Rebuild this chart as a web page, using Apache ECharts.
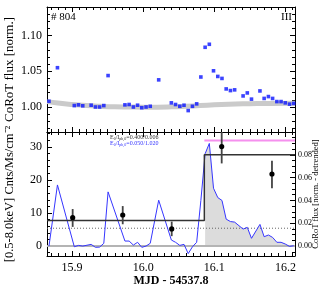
<!DOCTYPE html>
<html><head><meta charset="utf-8">
<script src="https://cdn.jsdelivr.net/npm/echarts@6/dist/echarts.min.js"></script>
<style>html,body{margin:0;padding:0;background:#fff}#c{width:327px;height:291px}</style>
</head><body><div id="c"></div>
<script>
// Time (MJD - 54537.8) of CoRoT samples
const corotTime = [15.8675,15.8794,15.9031,15.9090,15.9150,15.9268,15.9328,15.9387,15.9446,15.9506,
  15.9743,15.9802,15.9862,15.9921,15.9980,16.0040,16.0099,16.0218,16.0396,16.0455,16.0515,16.0574,
  16.0633,16.0693,16.0752,16.0811,16.0871,16.0930,16.0989,16.1049,16.1108,16.1167,16.1227,16.1286,
  16.1405,16.1464,16.1523,16.1642,16.1701,16.1761,16.1820,16.1880,16.1939,16.1998,16.2058,16.2117];
// normalised CoRoT flux (top panel)
const corotFlux = [1.008,1.055,1.002,1.003,1.0017,1.0025,1.000,1.000,1.002,1.044,
  1.003,1.0035,1.000,1.0025,0.999,1.000,1.001,1.038,1.0058,1.0035,1.001,1.0025,
  0.995,1.001,1.0044,1.042,1.0836,1.0878,1.0507,1.0428,1.040,1.0253,1.023,1.024,
  1.0155,1.0197,1.011,1.0225,1.012,1.0146,1.012,1.0076,1.0076,1.0058,1.004,1.005];
// detrended CoRoT flux (bottom panel, right axis)
const detrended = [0.000,0.0536,-0.0006,0.0006,0.000,0.0015,-0.0011,-0.0009,0.0024,0.0475,
  0.0044,0.0044,0.0009,0.0033,-0.0011,0.000,0.0024,0.0402,0.0053,0.0033,0.0006,0.0015,
  -0.0066,-0.0006,0.0033,0.040,0.081,0.090,0.0507,0.0425,0.040,0.0236,0.0215,0.021,
  0.0149,0.0164,0.0068,0.019,0.0082,0.0097,0.0076,0.0033,0.0033,0.0018,-0.0003,0.0003];
// trend curve
const trendTime = [15.865,15.88,15.90,15.92,15.94,15.96,15.98,16.00,16.02,16.04,16.06,16.08,16.10,16.12,16.14,16.16,16.18,16.2135];
const trendFlux = [1.0075,1.0055,1.0035,1.002,1.001,1.0003,1.0,0.9998,0.9998,1.0002,1.001,1.002,1.003,1.0038,1.0044,1.0048,1.005,1.0052];
// X-ray light curve (binned, with errors)
const xrayTime = [15.9008,15.9712,16.0401,16.1104,16.1811];
const xrayRate = [8.6,9.4,5.2,30.1,21.8];
const xrayLow  = [5.8,6.6,3.0,25.0,17.5];
const xrayHigh = [11.2,12.1,7.4,34.5,25.8];
// Bayesian block step
const blockTime = [15.8647,16.086,16.086,16.2135];
const blockRate = [7.7,7.7,27.6,27.6];
const flareTime = [16.086,16.2135];
const flareLevel = [31.9,31.9];
const quiescentLevel = 5.4;
const xMin = 15.8647, xMax = 16.2135;
const flareStartIndex = 26;
const annot1 = '=0.400/0.006', annot2 = '=0.050/1.020';

const FONT = 'Liberation Serif';
const chart = echarts.init(document.getElementById('c'));
const zip = (a,b) => a.map((v,i)=>[v,b[i]]);

function xAx(grid, pos, labels){
  return {type:'value', gridIndex:grid, position:pos, min:xMin, max:xMax, splitNumber:3,
    axisLine:{onZero:false, lineStyle:{color:'#000',width:1}},
    axisTick:{show:true, inside:true, length:5, lineStyle:{color:'#000'}},
    minorTick:{show:true, splitNumber:10, length:3, lineStyle:{color:'#000'}},
    splitLine:{show:false},
    axisLabel:{show:labels, showMinLabel:false, showMaxLabel:false, color:'#000', fontFamily:FONT, fontSize:12, margin:6,
      formatter:v=>v.toFixed(1)}};
}
function yAx(grid, pos, min, max, split, minor, labels, fmt, fs){
  return {type:'value', gridIndex:grid, position:pos, min:min, max:max, splitNumber:split,
    axisLine:{onZero:false, lineStyle:{color:'#000',width:1}},
    axisTick:{show:true, inside:true, length:5, lineStyle:{color:'#000'}},
    minorTick:{show:true, splitNumber:minor, length:3, lineStyle:{color:'#000'}},
    splitLine:{show:false},
    axisLabel:{show:labels, showMinLabel:false, showMaxLabel:false, color:'#000', fontFamily:FONT, fontSize:fs||12, margin:5,
      formatter:fmt}};
}

const xa = [xAx(0,'bottom',false), xAx(0,'top',false), xAx(1,'bottom',true), xAx(1,'top',false)];
xa[2].name = 'MJD - 54537.8'; xa[2].nameLocation='middle'; xa[2].nameGap=19; xa[2].nameMoveOverlap=false;
xa[2].nameTextStyle = {fontFamily:FONT, fontSize:12, fontWeight:'bold', color:'#000'};

const ya = [
  yAx(0,'left',0.965,1.14,4,5,true,v=>v.toFixed(2)),
  yAx(0,'right',0.965,1.14,4,5,false),
  yAx(1,'left',-3,34.5,4,5,true,v=>String(Math.round(v))),
  yAx(1,'right',-0.0087,0.1,5,4,true,v=>v.toFixed(2),8)
];
ya[0].name='CoRoT flux [norm.]'; ya[0].nameLocation='middle'; ya[0].nameGap=31; ya[0].nameMoveOverlap=false;
ya[0].nameTextStyle={fontFamily:FONT, fontSize:13, color:'#000'};
ya[2].name='[0.5-8.0keV] Cnts/Ms/cm⁻²'; ya[2].nameLocation='middle'; ya[2].nameGap=31; ya[2].nameMoveOverlap=false;
ya[2].nameTextStyle={fontFamily:FONT, fontSize:12.5, color:'#000'};
ya[3].name='CoRoT flux [norm. - detrended]'; ya[3].nameLocation='middle'; ya[3].nameGap=16; ya[3].nameMoveOverlap=false;
ya[3].nameTextStyle={fontFamily:FONT, fontSize:8.5, color:'#000'};
ya[3].axisLabel.margin=3;

const flareT = corotTime.slice(flareStartIndex), flareF = detrended.slice(flareStartIndex);

chart.setOption({
  animation:false,
  grid:[{left:47,right:32,top:7,height:125,outerBoundsMode:'none',containLabel:false},
        {left:47,right:32,top:132,height:124,outerBoundsMode:'none',containLabel:false}],
  xAxis:xa, yAxis:ya,
  graphic:[
    {type:'text', left:51, top:12, style:{text:'# 804', font:'11px "Liberation Serif"', fill:'#000'}},
    {type:'text', left:281, top:12, style:{text:'III', font:'11px "Liberation Serif"', fill:'#000'}},
    {type:'text', left:110, top:134, style:{text:'{n|E}{s|0}{n|/I}{s|ph,0}{n|'+annot1+'}',
      rich:{n:{fontSize:6, fontFamily:FONT, fill:'#333'}, s:{fontSize:4, fontFamily:FONT, fill:'#333', padding:[3,0,0,0]}}}},
    {type:'text', left:110, top:140, style:{text:'{n|E}{s|0}{n|/I}{s|ph,0}{n|'+annot2+'}',
      rich:{n:{fontSize:6, fontFamily:FONT, fill:'#3333ff'}, s:{fontSize:4, fontFamily:FONT, fill:'#3333ff', padding:[3,0,0,0]}}}}
  ],
  series:[
    {type:'line', xAxisIndex:0, yAxisIndex:0, data:zip(trendTime,trendFlux), smooth:true, symbol:'none',
      lineStyle:{color:'#cacaca', width:5}, z:1},
    {type:'scatter', xAxisIndex:0, yAxisIndex:0, data:zip(corotTime,corotFlux), symbol:'rect', symbolSize:3.6,
      itemStyle:{color:'#0a14ff'}, z:3},
    {type:'line', xAxisIndex:2, yAxisIndex:3, data:zip(flareT,flareF), symbol:'none',
      lineStyle:{width:0}, areaStyle:{color:'#dcdcdc', opacity:1}, z:1},
    {type:'line', xAxisIndex:2, yAxisIndex:2, data:[[xMin,0],[xMax,0]], symbol:'none',
      lineStyle:{color:'#b4b4b4', width:2}, z:2},
    {type:'line', xAxisIndex:2, yAxisIndex:2, data:[[xMin,quiescentLevel],[xMax,quiescentLevel]], symbol:'none',
      lineStyle:{color:'#666', width:1, type:[1,2]}, z:2},
    {type:'line', xAxisIndex:2, yAxisIndex:3, data:zip(corotTime,detrended), symbol:'none',
      lineStyle:{color:'#3535ff', width:1}, z:4},
    {type:'line', xAxisIndex:2, yAxisIndex:2, data:zip(blockTime,blockRate), symbol:'none',
      lineStyle:{color:'#333', width:1.5}, z:5},
    {type:'line', xAxisIndex:2, yAxisIndex:2, data:zip(flareTime,flareLevel), symbol:'none',
      lineStyle:{color:'#f590ee', width:2}, z:5},
    {type:'custom', xAxisIndex:2, yAxisIndex:2,
      data:xrayTime.map((t,i)=>[t,xrayRate[i],xrayLow[i],xrayHigh[i]]),
      renderItem:function(params, api){
        const p = api.coord([api.value(0), api.value(1)]);
        const lo = api.coord([api.value(0), api.value(2)]);
        const hi = api.coord([api.value(0), api.value(3)]);
        return {type:'group', children:[
          {type:'line', shape:{x1:lo[0],y1:lo[1],x2:hi[0],y2:hi[1]}, style:{stroke:'#444', lineWidth:1.8}},
          {type:'circle', shape:{cx:p[0],cy:p[1],r:2.6}, style:{fill:'#000'}}
        ]};
      }, z:6}
  ]
});
</script></body></html>
